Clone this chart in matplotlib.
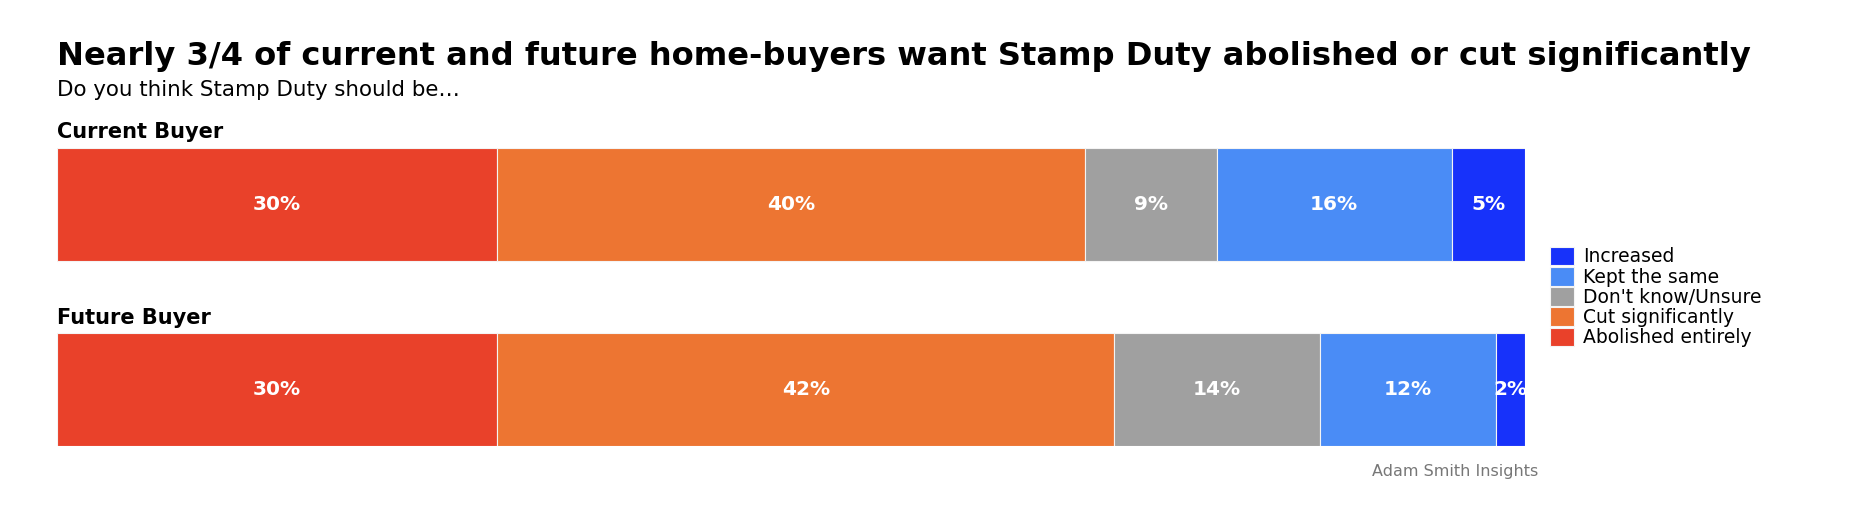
import matplotlib
matplotlib.use("Agg")
import matplotlib.pyplot as plt

# dados
grupos = ["Current Buyer", "Future Buyer"]
respostas = ["Abolished entirely", "Cut significantly", "Don't know/Unsure",
             "Kept the same", "Increased"]
valores = {
    "Abolished entirely": [30, 30],
    "Cut significantly": [40, 42],
    "Don't know/Unsure": [9, 14],
    "Kept the same": [16, 12],
    "Increased": [5, 2],
}
cores = ["#E9412A", "#ED7532", "#A0A0A0", "#4A8CF6", "#1732FA"]

titulo = "Nearly 3/4 of current and future home-buyers want Stamp Duty abolished or cut significantly"
subtitulo = "Do you think Stamp Duty should be\u2026"
fonte = "Adam Smith Insights"

plt.rcParams["font.family"] = ["DejaVu Sans"]

fig = plt.figure(figsize=(18.56, 5.18), dpi=100)
ax = fig.add_axes([0.0307, 0.139, 0.7910, 0.5753])

pos = list(range(len(grupos)))
esquerda = [0] * len(grupos)
for resp, cor in zip(respostas, cores):
    vals = valores[resp]
    ax.barh(pos, vals, left=esquerda, height=0.61, color=cor,
            edgecolor="#f4f4f4", linewidth=0.8, label=resp)
    for i, v in enumerate(vals):
        t = ax.text(esquerda[i] + v / 2, pos[i], f"{v}%", ha="center", va="center",
                    color="white", fontsize=14.5, fontweight="bold")
        t.set_clip_on(True)
    esquerda = [e + v for e, v in zip(esquerda, vals)]

ax.set_xlim(0, 100)
ax.set_ylim(1.305, -0.305)
ax.axis("off")

# rotulos dos grupos
for i, g in enumerate(grupos):
    ax.text(0, pos[i] - 0.335, g, ha="left", va="bottom", fontsize=15,
            fontweight="bold", color="black")

# legenda
h, l = ax.get_legend_handles_labels()
ax.legend(h[::-1], l[::-1], loc="center left", bbox_to_anchor=(1.012, 0.5),
          frameon=False, fontsize=13.5, handlelength=1.25, handleheight=1.15,
          labelspacing=0.03, handletextpad=0.5, borderaxespad=0)

# titulo
fig.text(0.0307, 0.874, titulo, fontsize=23.1, fontweight="bold", color="black",
         ha="left", va="baseline")
fig.text(0.0307, 0.827, subtitulo, fontsize=15.4, color="black", ha="left", va="center")
fig.text(0.829, 0.0907, fonte, fontsize=11.5, color="#777777", ha="right", va="center")

plt.savefig("out.png", dpi=100)
